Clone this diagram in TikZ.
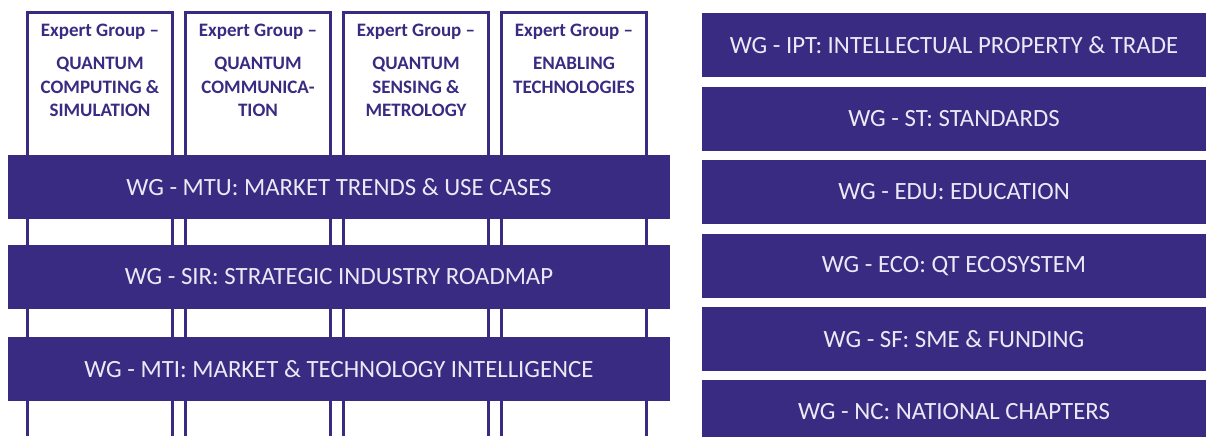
\documentclass[tikz,border=0pt]{standalone}
\usepackage{fontspec}
\setmainfont{Carlito}
\definecolor{qpurple}{RGB}{58,43,130}
\definecolor{qwhite}{RGB}{236,233,246}

\begin{document}
\begin{tikzpicture}[x=1pt,y=-1pt]
    \tikzstyle{wgbar}=[fill=qpurple, text=qwhite, inner sep=0pt, minimum height=64pt, font=\fontsize{24.8}{24.8}\selectfont]
    \tikzstyle{egline}=[draw=qpurple, line width=3pt]
    \tikzstyle{eghead}=[text=qpurple, anchor=base, inner sep=0pt, font=\bfseries\fontsize{19}{23.5}\selectfont]
    \tikzstyle{egname}=[text=qpurple, anchor=north, align=center, inner sep=0pt, font=\bfseries\fontsize{19}{23.5}\selectfont]

    \useasboundingbox (0,0) rectangle (1206,436);

    % expert group columns, open at the bottom
    \foreach \x in {27.5, 185.5, 343.5, 501.5}
        \draw[egline] (\x,436) -- (\x,13) -- (\x+145,13) -- (\x+145,436);

    \node[eghead](cs_h) at (100, 36.7) {Expert Group \textendash};
    \node[eghead](cm_h) at (258, 36.7) {Expert Group \textendash};
    \node[eghead](sm_h) at (416, 36.7) {Expert Group \textendash};
    \node[eghead](et_h) at (574, 36.7) {Expert Group \textendash};

    \node[egname](cs_n) at (100, 57) {QUANTUM\\COMPUTING \&\\SIMULATION};
    \node[egname](cm_n) at (258, 57) {QUANTUM\\COMMUNICA-\\TION};
    \node[egname](sm_n) at (416, 57) {QUANTUM\\SENSING \&\\METROLOGY};
    \node[egname](et_n) at (574, 57) {ENABLING\\TECHNOLOGIES};

    % working groups across the expert groups
    \node[wgbar, minimum width=662pt](mtu) at (339, 187) {WG - MTU: MARKET TRENDS \& USE CASES};
    \node[wgbar, minimum width=662pt](sir) at (339, 277) {WG - SIR: STRATEGIC INDUSTRY ROADMAP};
    \node[wgbar, minimum width=662pt](mti) at (339, 369) {WG - MTI: MARKET \& TECHNOLOGY INTELLIGENCE};

    % stand-alone working groups
    \node[wgbar, minimum width=504pt](ipt) at (954, 45) {WG - IPT: INTELLECTUAL PROPERTY \& TRADE};
    \node[wgbar, minimum width=504pt](st) at (954, 119) {WG - ST: STANDARDS};
    \node[wgbar, minimum width=504pt](edu) at (954, 191.5) {WG - EDU: EDUCATION};
    \node[wgbar, minimum width=504pt](eco) at (954, 266) {WG - ECO: QT ECOSYSTEM};
    \node[wgbar, minimum width=504pt](sf) at (954, 339) {WG - SF: SME \& FUNDING};
    \node[wgbar, minimum width=504pt](nc) at (954, 412) {WG - NC: NATIONAL CHAPTERS};

\end{tikzpicture}
\end{document}
